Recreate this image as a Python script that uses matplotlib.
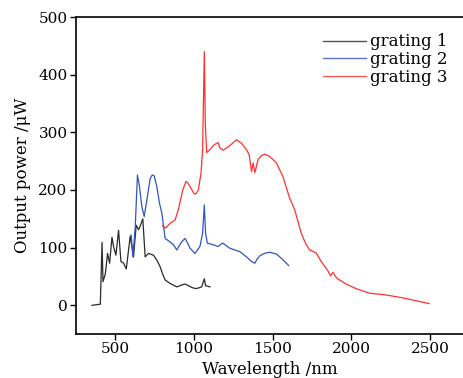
import matplotlib
matplotlib.use("Agg")
import matplotlib.pyplot as plt

# grating 1 (black)
g1_x = [352, 405, 416, 422, 437, 451, 464, 479, 489, 504, 521, 536, 553, 570, 595,
        616, 633, 648, 658, 675, 690, 711, 743, 765, 785, 800, 817, 848, 891, 920,
        943, 965, 986, 1010, 1028, 1049, 1066, 1074, 1102]
g1_y = [0, 2, 109, 41, 55, 90, 73, 118, 102, 87, 130, 76, 73, 63, 120,
        84, 139, 131, 137, 150, 84, 90, 87, 78, 67, 55, 44, 38, 32, 35,
        37, 34, 31, 29, 30, 32, 46, 34, 32]

# grating 2 (blue)
g2_x = [601, 612, 627, 641, 654, 669, 684, 701, 722, 735, 747, 764, 781, 796, 817, 848,
        870, 891, 908, 922, 943, 960, 975, 1007, 1038, 1055, 1066, 1074, 1085, 1123,
        1154, 1182, 1228, 1292, 1334, 1366, 1387, 1401, 1420, 1439, 1460, 1482, 1524,
        1566, 1602]
g2_y = [122, 84, 137, 226, 206, 171, 154, 183, 220, 226, 225, 206, 177, 160, 116, 110,
        105, 96, 104, 110, 116, 108, 99, 90, 102, 125, 174, 125, 108, 105,
        102, 108, 99, 93, 84, 76, 73, 80, 86, 89, 91, 92, 89,
        79, 69]

# grating 3 (red)
g3_x = [800, 821, 848, 880, 901, 929, 950, 962, 975, 1002, 1015, 1028, 1045, 1055,
        1066, 1072, 1081, 1102, 1123, 1144, 1154, 1165, 1186, 1228, 1271, 1302, 1334,
        1351, 1366, 1376, 1387, 1408, 1430, 1450, 1482, 1524, 1566, 1608, 1640, 1682,
        1710, 1735, 1777, 1809, 1851, 1868, 1883, 1908, 1967, 2030, 2115, 2220, 2326,
        2410, 2495]
g3_y = [138, 134, 142, 148, 166, 200, 215, 212, 206, 193, 194, 200, 229, 270,
        440, 316, 265, 270, 277, 281, 282, 273, 269, 277, 287, 281, 270,
        261, 232, 247, 230, 253, 260, 262, 258, 247, 223, 186, 166, 125,
        107, 96, 91, 76, 60, 51, 57, 47, 37, 29, 21, 18, 13,
        8, 3]

x_ticks = [500, 1000, 1500, 2000, 2500]
y_ticks = [0, 100, 200, 300, 400, 500]

plt.rcParams["font.family"] = ["DejaVu Serif"]

fig = plt.figure(figsize=(4.63, 3.78), dpi=100)
ax = fig.add_axes([0.164, 0.116, 0.836, 0.839])

ax.plot(g1_x, g1_y, "-", color="#2a2a2a", linewidth=0.9, label="grating 1")
ax.plot(g2_x, g2_y, "-", color="#2f55c0", linewidth=0.9, label="grating 2")
ax.plot(g3_x, g3_y, "-", color="#ff3030", linewidth=0.9, label="grating 3")

ax.set_xlim(250, 2710)
ax.set_ylim(-50, 500)
ax.set_xticks(x_ticks)
ax.set_yticks(y_ticks)
ax.tick_params(direction="out", length=4, width=1, labelsize=11, pad=2)
ax.spines["right"].set_visible(False)
for s in ["left", "bottom", "top"]:
    ax.spines[s].set_linewidth(1.2)

ax.set_xlabel("Wavelength /nm", fontsize=12, labelpad=3)
ax.set_ylabel("Output power /\u03bcW", fontsize=12, labelpad=5)

leg = ax.legend(loc="upper right", bbox_to_anchor=(0.985, 0.98), frameon=False,
                fontsize=12, handlelength=2.6, handletextpad=0.2, labelspacing=0.05,
                borderaxespad=0.2)
for line in leg.get_lines():
    line.set_linewidth(1.0)
    line.set_alpha(0.8)

fig.savefig("out.png", dpi=100)
